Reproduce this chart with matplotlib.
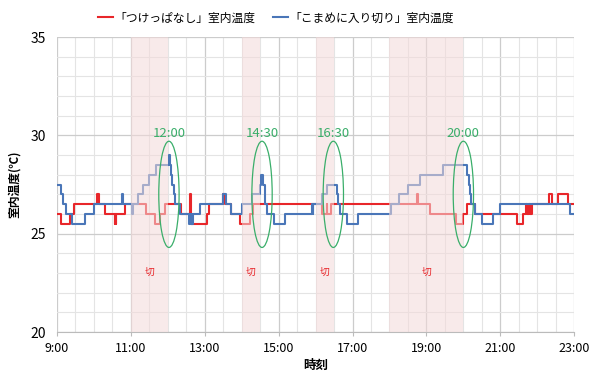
import matplotlib
matplotlib.use("Agg")
import matplotlib.pyplot as plt
from matplotlib.patches import Ellipse
from matplotlib.lines import Line2D
import numpy as np

plt.rcParams['font.family'] = ['Noto Sans CJK JP', 'DejaVu Sans']

# ---- data (hours, temperature °C), step "post" ----
red_t = [9.00, 9.12, 9.34, 9.47, 10.08, 10.15, 10.29, 10.56, 10.58, 10.59, 10.61, 10.83,
         11.42, 11.64, 11.78, 11.91, 12.36, 12.61, 12.63, 13.05, 13.12, 13.48, 13.54,
         13.72, 13.95, 14.22, 14.31, 16.17, 16.30, 16.32, 16.43, 18.75, 18.77, 19.09,
         19.80, 20.00, 20.09, 20.31, 21.44, 21.62, 21.70, 21.72, 21.78, 21.80, 21.86,
         22.33, 22.40, 22.57, 22.83, 23.00]
red_v = [26.0, 25.5, 26.0, 26.5, 27.0, 26.5, 26.0, 25.5, 26.0, 25.5, 26.0, 26.5,
         26.0, 25.5, 26.0, 26.5, 26.0, 27.0, 25.5, 26.0, 26.5, 27.0, 26.5,
         26.0, 25.5, 26.0, 26.5, 26.0, 26.5, 26.0, 26.5, 27.0, 26.5, 26.0,
         25.5, 26.0, 26.5, 26.0, 25.5, 26.0, 26.5, 26.0, 26.5, 26.0, 26.5,
         27.0, 26.5, 27.0, 26.5, 26.5]

blue_t = [9.00, 9.11, 9.16, 9.25, 9.40, 9.75, 10.00, 10.77, 10.80, 11.02, 11.07, 11.19,
          11.33, 11.50, 11.69, 12.02, 12.05, 12.08, 12.12, 12.16, 12.20, 12.32, 12.57,
          12.60, 12.62, 12.65, 12.66, 12.68, 12.88, 13.50, 13.57, 13.72, 14.00, 14.27,
          14.49, 14.52, 14.58, 14.64, 14.69, 14.87, 15.17, 15.89, 15.92, 15.94, 16.16,
          16.30, 16.57, 16.60, 16.65, 16.84, 17.15, 18.03, 18.25, 18.51, 18.82, 19.46,
          20.10, 20.14, 20.17, 20.20, 20.31, 20.50, 20.81, 21.00, 22.89, 23.00]
blue_v = [27.5, 27.0, 26.5, 26.0, 25.5, 26.0, 26.5, 27.0, 26.5, 26.0, 26.5, 27.0,
          27.5, 28.0, 28.5, 29.0, 28.5, 28.0, 27.5, 27.0, 26.5, 26.0, 25.5,
          26.0, 25.5, 26.0, 25.5, 26.0, 26.5, 27.0, 26.5, 26.0, 26.5, 27.0,
          27.5, 28.0, 27.5, 26.5, 26.0, 25.5, 26.0, 26.5, 26.0, 26.5, 27.0,
          27.5, 27.0, 26.5, 26.0, 25.5, 26.0, 26.5, 27.0, 27.5, 28.0, 28.5,
          28.0, 27.5, 27.0, 26.5, 26.0, 25.5, 26.0, 26.5, 26.0, 26.0]

off_periods = [(11.0, 12.0), (14.0, 14.5), (16.0, 16.5), (18.0, 20.0)]
off_label = "切"
switch_times = [12.03, 14.55, 16.48, 20.0]
switch_labels = ["12:00", "14:30", "16:30", "20:00"]

xticks = [9, 11, 13, 15, 17, 19, 21, 23]
xtick_labels = ["9:00", "11:00", "13:00", "15:00", "17:00", "19:00", "21:00", "23:00"]
yticks = [20, 25, 30, 35]

red_name = "「つけっぱなし」室内温度"
blue_name = "「こまめに入り切り」室内温度"

RED = "#e8262a"
BLUE = "#4a76b8"
GREEN = "#3aae6a"

fig = plt.figure(figsize=(6, 3.8), dpi=100)
ax = fig.add_axes([0.095, 0.1263, 0.862, 0.7763])

ax.set_xlim(9, 23)
ax.set_ylim(20, 35)

# grid
ax.set_xticks(xticks)
ax.set_xticklabels(xtick_labels, fontsize=9)
ax.set_xticks(np.arange(9, 23.01, 0.5), minor=True)
ax.set_yticks(yticks)
ax.set_yticklabels([str(v) for v in yticks], fontsize=10)
ax.set_yticks(np.arange(20, 35.01, 1), minor=True)
ax.grid(which='minor', color='#e4e4e4', linewidth=0.8, zorder=0)
ax.grid(which='major', color='#cccccc', linewidth=0.9, zorder=0)
ax.set_axisbelow(True)
ax.tick_params(axis='x', which='major', length=3, color='#bbbbbb', pad=4)
ax.tick_params(axis='x', which='minor', length=0)
ax.tick_params(axis='y', which='both', length=0, pad=8)
for s in ['top', 'right', 'left']:
    ax.spines[s].set_visible(False)
ax.spines['bottom'].set_color('#bbbbbb')

# series
ax.step(red_t, red_v, where='post', color=RED, linewidth=1.5, zorder=2)
ax.step(blue_t, blue_v, where='post', color=BLUE, linewidth=1.5, zorder=2.1)

# off periods overlay
for (a, b) in off_periods:
    ax.axvspan(a, b, color='#f4dada', alpha=0.55, zorder=3, linewidth=0)
    ax.text((a + b) / 2, 23.05, off_label, color=RED, fontsize=7,
            ha='center', va='center', zorder=4)

# ellipses and switch labels
for t, lab in zip(switch_times, switch_labels):
    ax.add_patch(Ellipse((t, 27.0), width=0.55, height=5.4, fill=False,
                         edgecolor=GREEN, linewidth=0.9, zorder=5))
    ax.text(t, 30.1, lab, color=GREEN, fontsize=9.5, ha='center',
            va='center', zorder=5)

ax.set_xlabel("時刻", fontsize=9, fontweight='bold', labelpad=3)
ax.set_ylabel("室内温度(℃)", fontsize=8.5, fontweight='bold', labelpad=7)

handles = [Line2D([0], [0], color=RED, lw=1.5), Line2D([0], [0], color=BLUE, lw=1.5)]
fig.legend(handles, [red_name, blue_name], loc='center', bbox_to_anchor=(0.46, 0.953),
           ncol=2, frameon=False, fontsize=8.5, handlelength=1.3, handletextpad=0.1,
           columnspacing=1.5)

fig.savefig("out.png", dpi=100)
